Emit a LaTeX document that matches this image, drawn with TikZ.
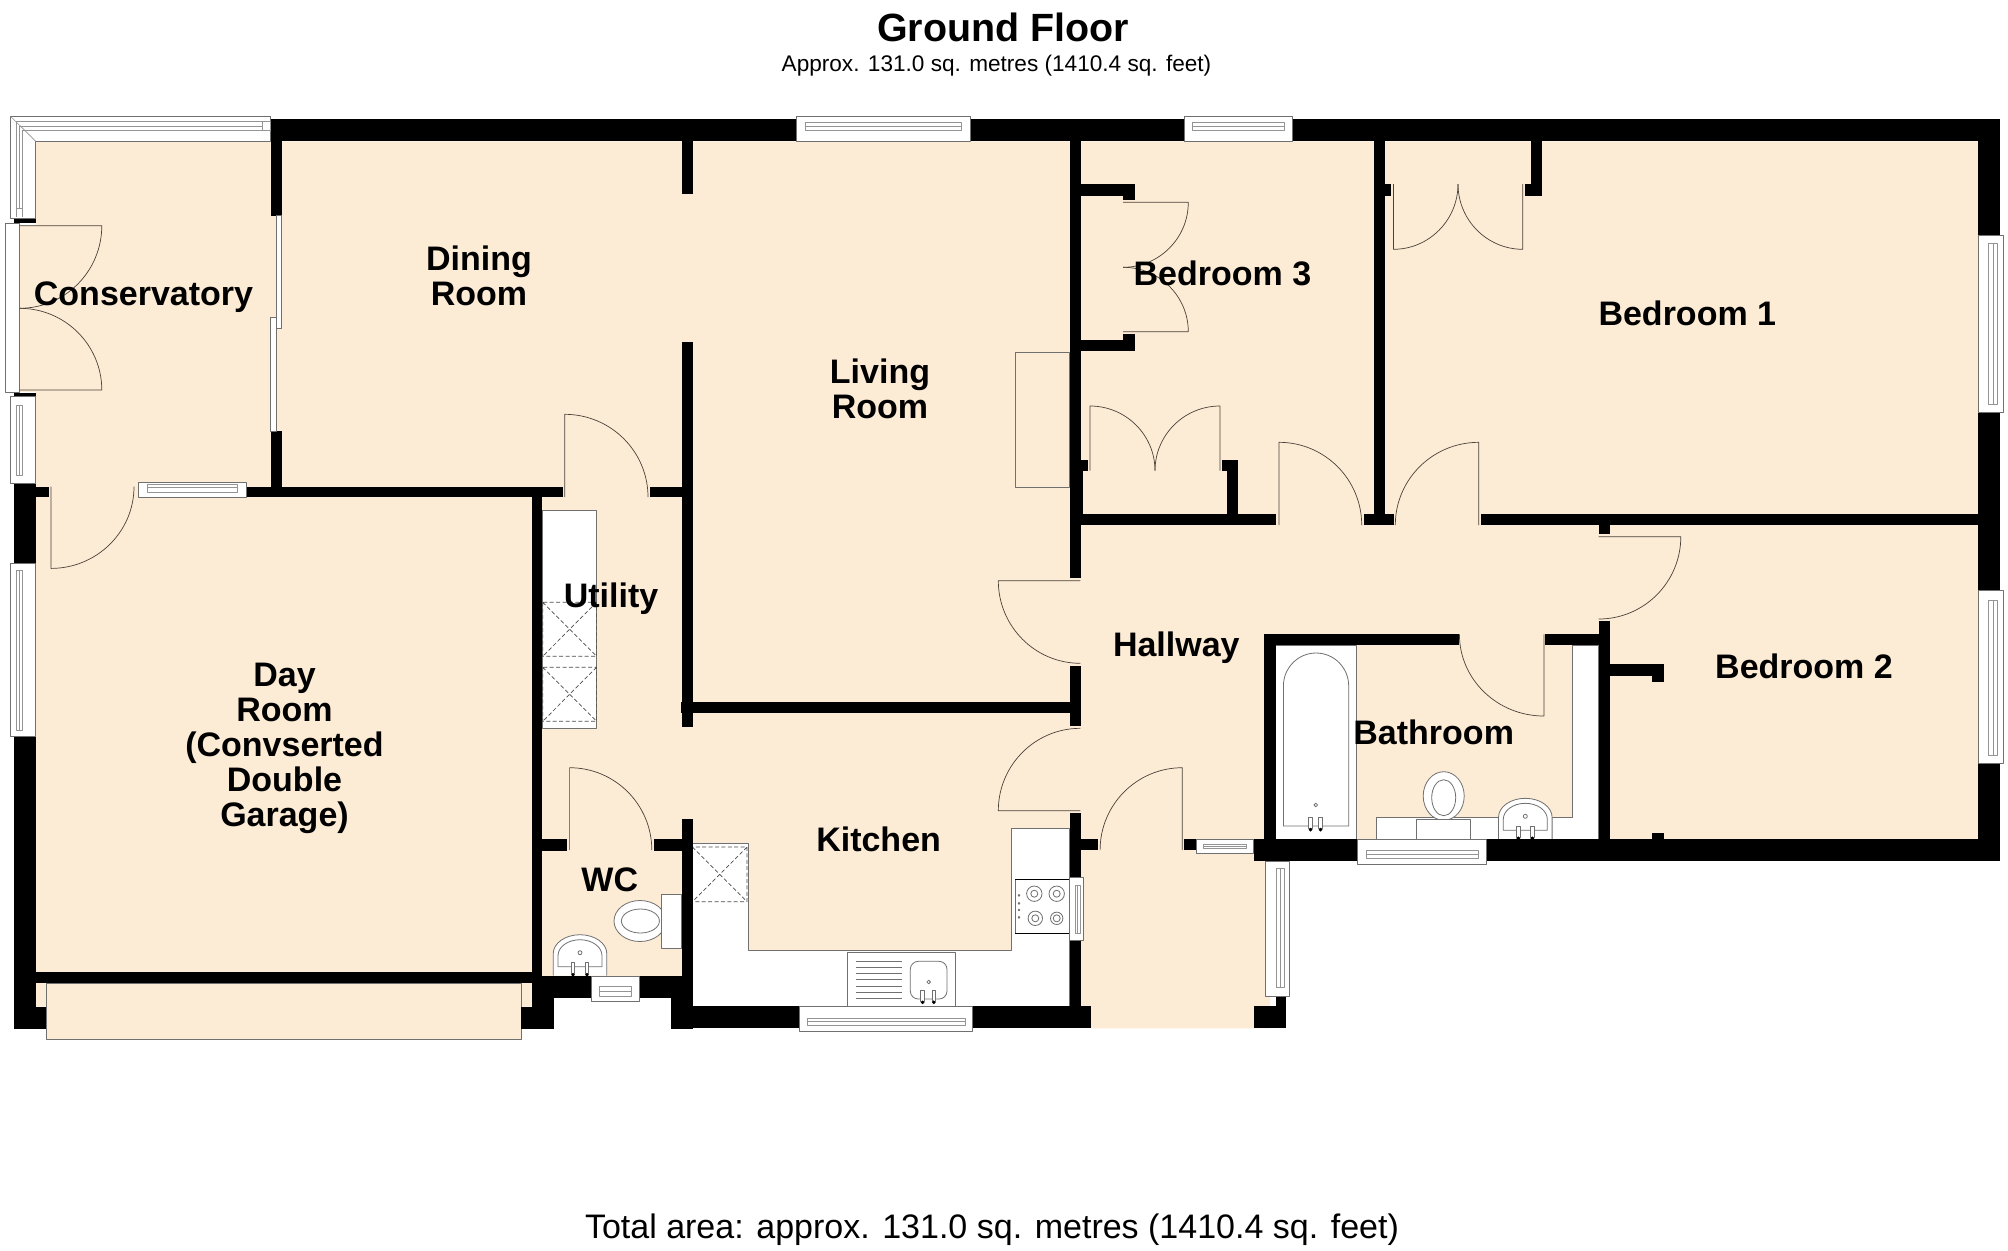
\documentclass[tikz,border=0pt]{standalone}
\usepackage{fontspec}
\setmainfont{Liberation Sans}
\usetikzlibrary{calc}
\definecolor{floorcol}{HTML}{FCEBD5}
\definecolor{fitcol}{HTML}{707070}
\definecolor{leafcol}{HTML}{4A4238}
\newcommand{\taps}[3]{%
	\foreach \t in {#1-#2,#1+#2} {
		\draw[fitting,fill=white] (\t-1.8,#3-13) rectangle (\t+1.8,#3-2);
		\fill (\t,#3-1) circle (1.9);
	}
}
\newcommand{\basin}[2]{%
	\draw[fitting,fill=white] (#1-26.8,#2) -- (#1-26.8,#2-22) arc[start angle=180,end angle=360,x radius=26.8,y radius=19] -- (#1+26.8,#2);
	\draw[fitting] (#1-22,#2-9) -- (#1-22,#2-20) arc[start angle=180,end angle=360,x radius=22,y radius=16] -- (#1+22,#2-9) -- cycle;
	\draw[fitting] (#1,#2-23) circle (2);
	\taps{#1}{7}{#2}
}
\begin{document}
\begin{tikzpicture}[x=0.5pt, y=-0.5pt, line join=round,
		wall/.style={fill=black},
		floorarea/.style={fill=floorcol},
		fitting/.style={draw=fitcol, line width=0.4pt},
		glazing/.style={draw=fitcol, line width=0.4pt, fill=white},
		pane/.style={draw=fitcol!75, line width=0.3pt},
		leaf/.style={draw=leafcol, line width=0.35pt},
		hidden/.style={draw=black!70, line width=0.35pt, dash pattern=on 2pt off 1.2pt},
		room/.style={font=\fontsize{17}{17.4}\selectfont\bfseries, inner sep=0pt, anchor=base, align=center}]
	\useasboundingbox (0,0) rectangle (2008,1250);
	\fill[white] (0,0) rectangle (2008,1250);
	% floor
	\fill[floorarea] (35.7,141.3) -- (1985,141.3) -- (1985,845) -- (1270,845) -- (1270,1028.3) -- (1091,1028.3) -- (1091,1010) -- (690,1010) -- (690,985) -- (535,985) -- (535,1006.5) -- (35.7,1006.5) -- (35.7,392) -- (19.6,392) -- (19.6,225) -- (35.7,225) -- cycle;
	\draw[fitting,fill=floorcol] (46.4,983) rectangle (521,1039.5);
	\draw[fitting] (1015.3,352.7) rectangle (1069.7,487.7);
	% worktops
	\draw[fitting,fill=white] (542.4,510.2) rectangle (596.6,728.8);
	\foreach \ya/\yb in {602.3/656.3,667.3/721.3} {
		\draw[hidden] (542.7,\ya) rectangle (596.6,\yb) (542.7,\ya) -- (596.6,\yb) (596.6,\ya) -- (542.7,\yb);
	}
	\draw[fitting,fill=white] (692.4,843.7) -- (748.6,843.7) -- (748.6,950.3) -- (1011.3,950.3) -- (1011.3,828.3) -- (1069.5,828.3) -- (1069.5,1006) -- (692.4,1006) -- cycle;
	\draw[hidden] (692.4,847) rectangle (747,901.7) (692.4,847) -- (747,901.7) (747,847) -- (692.4,901.7);
	\draw[fitting,fill=white] (1275.7,645.3) rectangle (1356.4,839.3);
	\draw[fitting,fill=white] (1572.5,645.3) -- (1598.7,645.3) -- (1598.7,839.3) -- (1376,839.3) -- (1376,817.3) -- (1572.5,817.3) -- cycle;
	% sink
	\draw[fitting] (847.6,1006) -- (847.6,952.3) -- (955.7,952.3) -- (955.7,1006);
	\foreach \y in {961.7,967.7,973.5,979.5,986,992,998} \draw[fitting] (856.2,\y) -- (901.6,\y);
	\draw[fitting,rounded corners=4pt] (910.3,961.3) rectangle (947,999);
	\draw[fitting] (928.7,982) circle (1.8);
	\taps{928.2}{5.6}{1003.3}
	% hob
	\draw[fitting,fill=white] (1015.4,879.3) rectangle (1069.5,933.3);
	\draw[black,line width=0.5pt] (1015.4,933.3) -- (1069.5,933.3) (1015.4,879.3) -- (1069.5,879.3);
	\foreach \x/\y/\r in {1034.3/893.7/7.7,1056.7/893.7/7.7,1035.3/918.3/7.2,1056.7/918.3/6.2} {
		\draw[fitting] (\x,\y) circle (\r);
		\draw[fitting] (\x,\y) circle (3.5);
	}
	\foreach \y in {895.3,903.3,910,917.3} \draw[fitting] (1019,\y) circle (0.9);
	% bath
	\draw[fitting,fill=white] (1283.4,826) -- (1283.4,686) arc[start angle=180,end angle=360,x radius=32.65,y radius=33] -- (1348.7,826) -- cycle;
	\draw[fitting] (1315.8,805) circle (1.8);
	\taps{1315.6}{5}{830.7}
	% toilets
	\draw[fitting,fill=white] (640,921) ellipse (26 and 20.5);
	\draw[fitting] (640.4,921) ellipse (19 and 12);
	\draw[fitting,fill=white] (661.6,894) rectangle (681.2,948.4);
	\draw[fitting,fill=white] (1443.7,796) ellipse (20.5 and 24.3);
	\draw[fitting] (1443.7,797.7) ellipse (12 and 18);
	\draw[fitting,fill=white] (1416.5,819.3) rectangle (1470.4,839.3);
	\basin{580}{975.7}
	\basin{1525.3}{839.3}
	% walls
	\foreach \xa/\ya/\xb/\yb in {270.5/119.3/1999.9/141.3, 1978/119.3/1999.9/861, 1253.7/839.3/1999.9/861,
		1264.3/634.3/1275.7/850, 1264.3/634.3/1458.5/645.3, 1545.3/634.3/1609.7/645.3,
		1598.7/621.3/1609.7/850, 1598.7/525/1609.7/534.3, 1609.7/664.3/1663.6/675.7, 1652.2/664.3/1663.6/682, 1652.2/832.7/1663.6/840,
		1480.5/514/1990/525, 1081/514/1276.3/525, 1363.6/514/1394.2/525, 1373.5/141/1385.4/525,
		1385.4/184/1391/195.7, 1530.7/141/1541.5/195.7, 1525/184/1541.5/195.7,
		1081/184/1134.7/195.7, 1123.2/184/1134.7/200, 1081/340/1134.7/350.7, 1123.2/334.3/1134.7/350.7,
		1081/460/1088/470.7, 1222/460/1238/470.7, 1227.3/460/1238/514, 1069.7/470.7/1083/514,
		1069.5/141/1081/578.3, 1069.5/665.7/1081/726, 1069.5/813.3/1081/1028.3,
		1081/839/1098/850, 1184.3/839/1196/850, 681.3/702.3/1081/713.3,
		681.7/141/692.5/194, 681.7/342.3/692.5/726.7, 681.7/819/692.5/1028.5,
		670.5/1006/799.6/1028.3, 972.5/1006/1091.4/1028.3, 542.4/976/691/998, 670.5/976/692/1028.5,
		542.4/839.3/567/850.8, 654/839.3/681.7/850.8,
		246.4/486.7/562.5/497, 649.6/486.7/681.7/497, 35.7/486.7/49/497,
		270.5/141/282/215.7, 270.5/431/282/487, 531.7/486.7/542.4/1006, 35.7/972/542/983,
		14/484/35.7/563.8, 14/736.7/35.7/1028.7, 14/218/35.7/223.3, 14/393.3/35.7/396.7,
		14/1006.5/46.4/1028.7, 521/1006.5/553.6/1028.7, 531.7/983/553.6/1006.5,
		1253.7/1006/1286.3/1028.3, 1276.3/996/1286.3/1006}
		\fill[wall] (\xa,\ya) rectangle (\xb,\yb);
	% windows
	\foreach \xa/\ya/\xb/\yb/\ia/\ib/\la/\lb/\lc in {796.3/116.3/970.3/141.3/805/961.7/122/126/130.3,
		1184/116.3/1292.4/141.3/1192.5/1284.3/122/126/130.3,
		138.4/482.7/246.4/497.3/147.3/237.5/484/487.5/492,
		799.6/1006.7/972.5/1031.7/807.2/965.4/1018.3/1021.7/1025.7,
		1357.8/839.3/1486.1/864.3/1366/1478.5/850/854/858.3,
		591.5/976/639.3/1001/599.6/631.7/986.6/991/996,
		1196/839.3/1253.7/853.3/1203/1246/844.3/846.5/848.3} {
		\draw[glazing] (\xa,\ya) rectangle (\xb,\yb);
		\draw[pane] (\ia,\la) rectangle (\ib,\lc) (\ia,\lb) -- (\ib,\lb);
	}
	\foreach \xa/\ya/\xb/\yb/\ia/\ib/\la/\lb/\lc in {10.3/396.7/35.7/483.3/405/475/16.5/19.4/22.3,
		10.3/563.8/35.7/736.7/570/730/16.5/19.4/22.3,
		1978/235.7/2003.7/412.7/243.3/404/1988.6/1992.8/1997,
		1978/590.7/2003.3/763.3/600/755/1988.5/1992.8/1997,
		1069.5/877.7/1083.8/940.7/885/933/1075/1077.5/1080,
		1264.9/861/1289.4/996/868.3/987.3/1276/1280/1284} {
		\draw[glazing] (\xa,\ya) rectangle (\xb,\yb);
		\draw[pane] (\la,\ia) rectangle (\lc,\ib) (\lb,\ia) -- (\lb,\ib);
	}
	% conservatory frame
	\draw[glazing] (10.3,116) -- (270.5,116) -- (270.5,141.3) -- (35.7,141.3) -- (35.7,218) -- (10.3,218) -- cycle;
	\draw[pane] (10.3,116) -- (35.7,141.3);
	\draw[pane] (262.5,130.7) -- (270.5,130.7) -- (270.5,121.7) -- (16,121.7) -- (16,217) (22.3,217) -- (22.3,130.7) -- (262.5,130.7) -- (262.5,121.7);
	\draw[pane] (19.4,126) -- (262.5,126) (19.4,126) -- (19.4,208) (16,208) -- (22.3,208);
	\draw[glazing] (5.4,223.3) rectangle (19.6,392.7);
	\draw[glazing] (276,215.7) rectangle (281.7,328.7);
	\draw[glazing] (270.5,317.7) rectangle (276.3,431);
	% doors
	\foreach \hx/\hy/\px/\py/\qx/\qy in {19.6/225.7/101.8/225.7/19.6/308.3, 19.6/390/101.8/390/19.6/308.3,
		51/486.7/51/568.4/134/486.7, 564.7/497/564.7/414.3/648/497, 569.6/850/569.6/767.7/651.8/850,
		1080.3/580.7/998.3/580.7/1080.3/663.3, 1080.3/810.7/998.3/810.7/1080.3/728.3,
		1182.3/850/1182.3/767.7/1100.1/850, 1123.2/202.3/1188.3/202.3/1123.2/267.3, 1123.2/331.7/1188.3/331.7/1123.2/267.3,
		1090/470.7/1090/406/1155/470.7, 1220/470.7/1220/406/1155/470.7,
		1279/525/1279/442.3/1361.7/525, 1478.8/525/1478.8/442.3/1395.3/525,
		1393.4/184/1393.4/249.3/1458/184, 1522.8/184/1522.8/249.3/1458/184,
		1598.7/536.7/1680.8/536.7/1598.7/619, 1543.9/634.3/1543.9/716/1459.4/634.3}
		\draw[leaf] (\hx,\hy) -- (\px,\py) .. controls ($(\px,\py)+0.552*(\qx-\hx,\qy-\hy)$) and ($(\qx,\qy)+0.552*(\px-\hx,\py-\hy)$) .. (\qx,\qy);
	% labels
	\node[room,font=\fontsize{19.7}{21}\selectfont\bfseries] (title) at (1003,41) {Ground Floor};
	\node[room,font=\fontsize{11.3}{12}\selectfont\mdseries] (subtitle) at (996.5,71) {Approx. 131.0 sq. metres (1410.4 sq. feet)};
	\node[room,font=\fontsize{17}{18}\selectfont\mdseries] (total) at (992,1238.3) {Total area: approx. 131.0 sq. metres (1410.4 sq. feet)};
	\node[room] (conservatory) at (143.5,305.5) {Conservatory};
	\node[room] (dining) at (479,305) {Dining\\Room};
	\node[room] (living) at (880,418) {Living\\Room};
	\node[room] (bedthree) at (1222.4,285) {Bedroom 3};
	\node[room] (bedone) at (1687.3,325) {Bedroom 1};
	\node[room] (bedtwo) at (1804,678.7) {Bedroom 2};
	\node[room] (bathroom) at (1433.7,744.3) {Bathroom};
	\node[room] (hallway) at (1176.3,656) {Hallway};
	\node[room] (kitchen) at (878.6,851) {Kitchen};
	\node[room] (wc) at (609.8,891) {WC};
	\node[room] (utility) at (611,607.7) {Utility};
	\node[room] (dayroom) at (284.5,826) {Day\\Room\\(Convserted\\Double\\Garage)};
\end{tikzpicture}
\end{document}
